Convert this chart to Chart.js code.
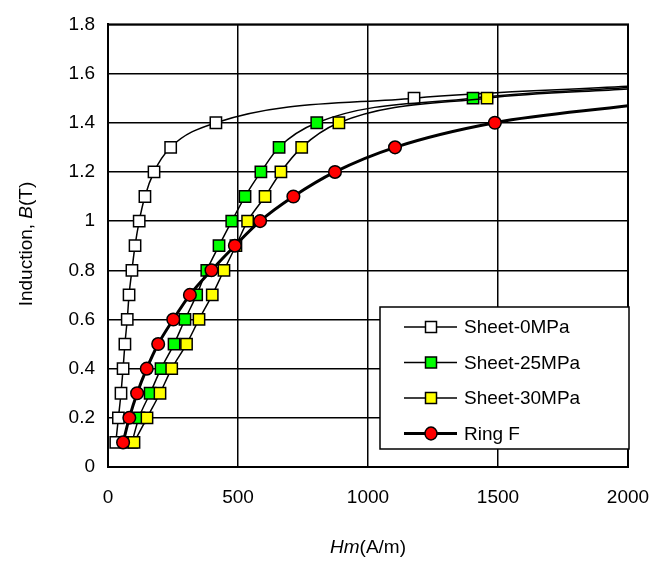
<!DOCTYPE html>
<html>
<head>
<meta charset="utf-8">
<script src="https://cdn.jsdelivr.net/npm/chart.js@4.4.1/dist/chart.umd.min.js"></script>
<style>
    body { margin: 0; background: #fff; }
    #bhChart { display: block; }
</style>
</head>
<body>
<canvas id="bhChart" width="662" height="564"></canvas>
<script>
// induction levels (T) of the measured points
const sheetB = [0.1, 0.2, 0.3, 0.4, 0.5, 0.6, 0.7, 0.8, 0.9, 1.0, 1.1, 1.2, 1.3, 1.4, 1.5];
const ringB = [0.1, 0.2, 0.3, 0.4, 0.5, 0.6, 0.7, 0.8, 0.9, 1.0, 1.1, 1.2, 1.3, 1.4];

// Hm (A/m)
const sheet0H = [30, 40, 50, 58, 65, 74, 81, 92, 104, 120, 142, 177, 241, 415, 1177];
const sheet25H = [92, 119, 162, 204, 254, 296, 341, 380, 427, 476, 527, 588, 658, 803, 1404];
const sheet30H = [100, 150, 200, 245, 302, 350, 401, 446, 492, 537, 604, 665, 745, 888, 1458];
const ringH = [58, 82, 112, 149, 193, 251, 315, 398, 488, 585, 713, 873, 1104, 1488];

// where each smoothed curve leaves the plot at the right edge
const edgeH = 2000;
const sheet0Edge = 1.548;
const sheet25Edge = 1.543;
const sheet30Edge = 1.537;
const ringEdge = 1.469;

const seriesNames = ["Sheet-0MPa", "Sheet-25MPa", "Sheet-30MPa", "Ring F"];
const xTicks = [0, 500, 1000, 1500, 2000];

const FONT = "'Liberation Sans', Arial, sans-serif";

function toPoints(hs, bs, edgeB) {
    let pts = hs.map(function (h, i) { return { x: h, y: bs[i] }; });
    pts.push({ x: edgeH, y: edgeB });
    return pts;
}

// markers on the measured points only, none on the edge point
function markerSizes(n, r) {
    let arr = [];
    for (let i = 0; i < n; i++) arr.push(r);
    arr.push(0);
    return arr;
}

function drawParts(ctx, parts, cx, cy) {
    let total = 0;
    parts.forEach(function (p) {
        ctx.font = (p.italic ? "italic " : "") + "19px " + FONT;
        p.w = ctx.measureText(p.text).width;
        total += p.w;
    });
    let x = cx - total / 2;
    parts.forEach(function (p) {
        ctx.font = (p.italic ? "italic " : "") + "19px " + FONT;
        ctx.fillText(p.text, x, cy);
        x += p.w;
    });
}

const chartDecor = {
    id: "chartDecor",
    afterDraw(chart) {
        const ctx = chart.ctx;
        const area = chart.chartArea;
        ctx.save();

        // frame of the plot
        ctx.strokeStyle = "#000";
        ctx.lineWidth = 2;
        ctx.strokeRect(area.left, area.top, area.right - area.left, area.bottom - area.top);

        // legend box inside the plot
        const box = { x: 380, y: 307, w: 249, h: 142 };
        ctx.fillStyle = "#fff";
        ctx.fillRect(box.x, box.y, box.w, box.h);
        ctx.lineWidth = 1.5;
        ctx.strokeRect(box.x, box.y, box.w, box.h);

        chart.data.datasets.forEach(function (ds, i) {
            const y = 327 + i * 35.5;
            ctx.strokeStyle = "#000";
            ctx.lineWidth = ds.borderWidth;
            ctx.beginPath();
            ctx.moveTo(404, y);
            ctx.lineTo(457, y);
            ctx.stroke();

            ctx.fillStyle = ds.pointBackgroundColor;
            ctx.lineWidth = 1.5;
            if (ds.pointStyle === "circle") {
                ctx.beginPath();
                ctx.ellipse(431, y, 6, 6.5, 0, 0, Math.PI * 2);
                ctx.fill();
                ctx.stroke();
            } else {
                ctx.fillRect(425.5, y - 5.5, 11, 11);
                ctx.strokeRect(425.5, y - 5.5, 11, 11);
            }

            ctx.fillStyle = "#000";
            ctx.font = "19px " + FONT;
            ctx.textAlign = "left";
            ctx.textBaseline = "middle";
            ctx.fillText(ds.label, 464, y + 1);
        });

        // axis titles (italic symbols)
        ctx.fillStyle = "#000";
        ctx.textAlign = "left";
        ctx.textBaseline = "middle";
        drawParts(ctx, [{ text: "Hm", italic: true }, { text: "(A/m)", italic: false }], (area.left + area.right) / 2, 548);

        ctx.translate(27, 244);
        ctx.rotate(-Math.PI / 2);
        drawParts(ctx, [{ text: "Induction, ", italic: false }, { text: "B", italic: true }, { text: "(T)", italic: false }], 0, 0);

        ctx.restore();
    }
};

new Chart(document.getElementById("bhChart"), {
    type: "line",
    data: {
        datasets: [{
            label: seriesNames[0],
            data: toPoints(sheet0H, sheetB, sheet0Edge),
            borderColor: "#000",
            borderWidth: 1.5,
            pointStyle: "rect",
            pointRadius: markerSizes(sheet0H.length, 8),
            pointBackgroundColor: "#fff",
            pointBorderColor: "#000",
            pointBorderWidth: 1.5,
            order: 3
        },
        {
            label: seriesNames[1],
            data: toPoints(sheet25H, sheetB, sheet25Edge),
            borderColor: "#000",
            borderWidth: 1.5,
            pointStyle: "rect",
            pointRadius: markerSizes(sheet25H.length, 8),
            pointBackgroundColor: "#00ff00",
            pointBorderColor: "#000",
            pointBorderWidth: 1.5,
            order: 2
        },
        {
            label: seriesNames[2],
            data: toPoints(sheet30H, sheetB, sheet30Edge),
            borderColor: "#000",
            borderWidth: 1.5,
            pointStyle: "rect",
            pointRadius: markerSizes(sheet30H.length, 8),
            pointBackgroundColor: "#ffff00",
            pointBorderColor: "#000",
            pointBorderWidth: 1.5,
            order: 1
        },
        {
            label: seriesNames[3],
            data: toPoints(ringH, ringB, ringEdge),
            borderColor: "#000",
            borderWidth: 3,
            pointStyle: "circle",
            pointRadius: markerSizes(ringH.length, 6.3),
            pointBackgroundColor: "#ff0000",
            pointBorderColor: "#000",
            pointBorderWidth: 1.5,
            order: 0
        }]
    },
    options: {
        responsive: false,
        animation: false,
        events: [],
        layout: { padding: { left: 0, right: 34, top: 21, bottom: 0 } },
        elements: { line: { cubicInterpolationMode: "monotone", fill: false } },
        plugins: {
            legend: { display: false },
            tooltip: { enabled: false }
        },
        scales: {
            x: {
                type: "linear",
                min: 0,
                max: 2000,
                afterBuildTicks: function (scale) {
                    scale.ticks = xTicks.map(function (v) { return { value: v }; });
                },
                afterFit: function (scale) {
                    scale.height = 97;
                    scale.paddingRight = 0;
                    scale.paddingLeft = 0;
                },
                ticks: {
                    color: "#000",
                    font: { family: FONT, size: 19 },
                    padding: 19,
                    maxRotation: 0,
                    callback: function (v) { return String(v); }
                },
                grid: { color: "#000", lineWidth: 1.5, drawTicks: false },
                border: { color: "#000", width: 2 }
            },
            y: {
                min: 0,
                max: 1.8,
                afterFit: function (scale) { scale.width = 108; },
                ticks: {
                    stepSize: 0.2,
                    color: "#000",
                    font: { family: FONT, size: 19 },
                    padding: 13,
                    callback: function (v) { return String(Number(v.toFixed(1))); }
                },
                grid: { color: "#000", lineWidth: 1.5, drawTicks: false },
                border: { color: "#000", width: 2 }
            }
        }
    },
    plugins: [chartDecor]
});
</script>
</body>
</html>
